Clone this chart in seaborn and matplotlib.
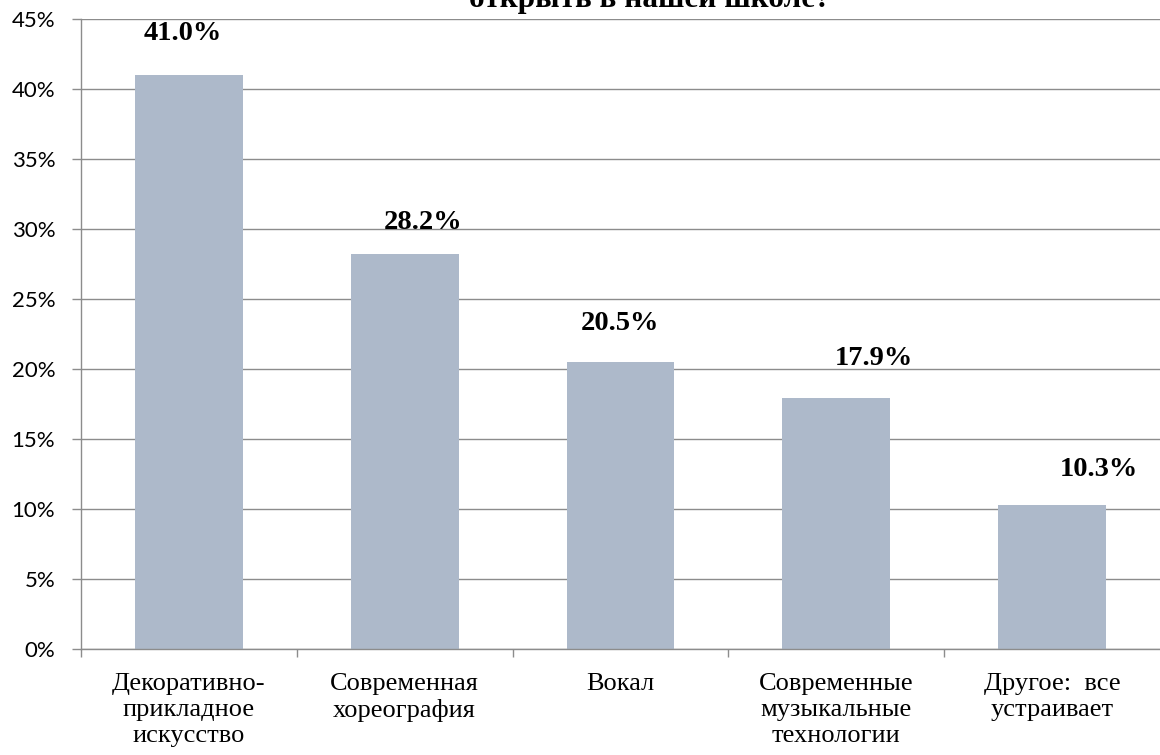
import matplotlib
matplotlib.use("Agg")
import matplotlib.pyplot as plt
import seaborn as sns
import pandas as pd
from matplotlib.ticker import FixedLocator, PercentFormatter

categories = ["Декоративно-\nприкладное\nискусство", "Современная\nхореография", "Вокал",
              "Современные\nмузыкальные\nтехнологии", "Другое:  все\nустраивает"]
values = [41.0, 28.2, 20.5, 17.9, 10.3]
value_labels = ["41.0%", "28.2%", "20.5%", "17.9%", "10.3%"]
title_text = "открыть в нашей школе?"

df = pd.DataFrame({"cat": categories, "val": values})

sns.set_theme(style="white")
fig = plt.figure(figsize=(11.6, 7.55), dpi=100)
ax = fig.add_axes([81/1160, 1-649/755, 1-81/1160, (649-19)/755])

sns.barplot(data=df, x="cat", y="val", color="#ADB9CA", saturation=1, width=0.5, ax=ax)
for p in ax.patches:
    p.set_edgecolor("none")

ax.set_xlim(-0.5, 4.5)
ax.set_ylim(0, 45)
ax.set_yticks(range(0, 46, 5))
ax.yaxis.set_major_formatter(PercentFormatter(decimals=0))
ax.grid(axis="y", color="#8C8C8C", linewidth=1.0)
ax.set_axisbelow(True)
ax.set_xlabel("")
ax.set_ylabel("")

for s in ["top", "right"]:
    ax.spines[s].set_visible(False)
for s in ["left", "bottom"]:
    ax.spines[s].set_color("#8C8C8C")
    ax.spines[s].set_linewidth(1.0)

ax.tick_params(axis="y", which="major", length=6.5, color="#8C8C8C", width=1, direction="out",
               labelsize=16, pad=12, left=True)
for t in ax.get_yticklabels():
    t.set_fontfamily("Lato")
    t.set_color("#000000")

ax.tick_params(axis="x", which="major", length=0, pad=17, labelsize=19)
ax.xaxis.set_minor_locator(FixedLocator([-0.5, 0.5, 1.5, 2.5, 3.5]))
ax.tick_params(axis="x", which="minor", length=5.5, color="#8C8C8C", width=1, direction="out", bottom=True)
for t in ax.get_xticklabels():
    t.set_fontfamily("Liberation Serif")
    t.set_color("#000000")
    t.set_linespacing(1.24)
    t.set_horizontalalignment("center")
    t.set_multialignment("center")

offsets = [(-6.5, 42), (18, 32), (-1, 39), (38, 40), (47, 35)]
for i, (v, lab) in enumerate(zip(values, value_labels)):
    dx, dy = offsets[i]
    ax.annotate(lab, xy=(i, v), xytext=(dx * 0.72, dy * 0.72), textcoords="offset points",
                ha="center", va="center", fontsize=20.5, fontweight="bold",
                fontfamily="Liberation Serif", color="#000000")

fig.text(650/1160, 1 - 7.5/755, title_text, ha="center", va="baseline", fontsize=22.5,
         fontweight="bold", fontfamily="Liberation Serif", color="#000000")

fig.savefig("out.png", dpi=100)
